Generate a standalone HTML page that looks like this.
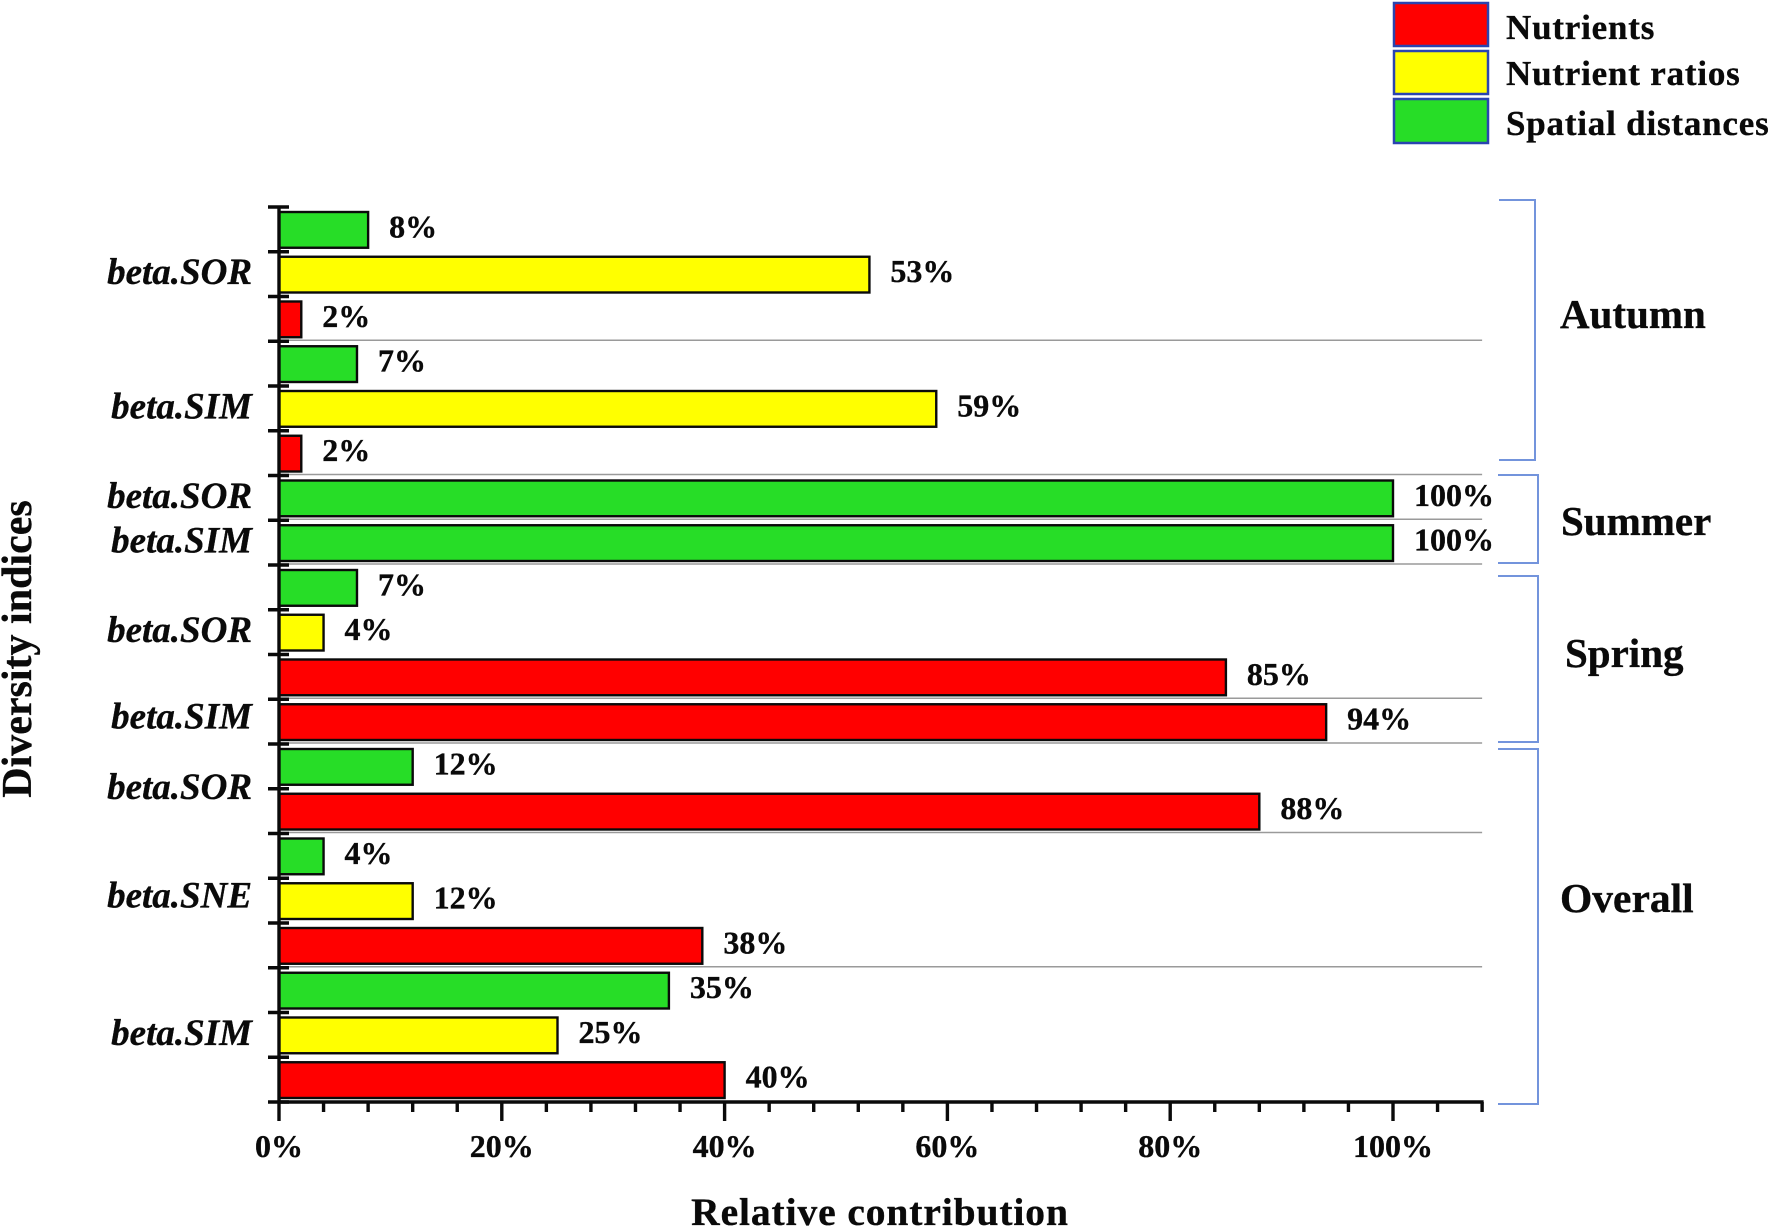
<!DOCTYPE html>
<html>
<head>
<meta charset="utf-8">
<title>Relative contribution by diversity index</title>
<style>
html,body{margin:0;padding:0;background:#fff;}
svg{display:block;}
text{font-family:"Liberation Serif",serif;font-weight:bold;fill:#0a0a0a;stroke:#0a0a0a;stroke-width:0.35px;}
</style>
</head>
<body>
<svg id="chart" xmlns="http://www.w3.org/2000/svg" width="1772" height="1231" viewBox="0 0 1772 1231">
  <rect x="0" y="0" width="1772" height="1231" fill="#ffffff"/>
  <g id="separators"></g>
  <g id="bars"></g>
  <g id="value-labels"></g>
  <g id="axes"></g>
  <g id="category-labels"></g>

  <g>
    <rect x="1394" y="3" width="94" height="43" fill="#ff0000" stroke="#2a44b0" stroke-width="2.5"/>
    <rect x="1394" y="51" width="94" height="43" fill="#ffff00" stroke="#2a44b0" stroke-width="2.5"/>
    <rect x="1394" y="99" width="94" height="44" fill="#27dd27" stroke="#2a44b0" stroke-width="2.5"/>
    <text x="1506" y="39" font-size="35" letter-spacing="0.8">Nutrients</text>
    <text x="1506" y="85" font-size="35" letter-spacing="0.8">Nutrient ratios</text>
    <text x="1506" y="135" font-size="35" letter-spacing="0.8">Spatial distances</text>
  </g>

  <g fill="none" stroke="#7394dc" stroke-width="2">
    <path d="M1499 200H1535V460H1499"/>
    <path d="M1498 475H1538V563H1498"/>
    <path d="M1498 576H1538V742H1498"/>
    <path d="M1498 749H1538V1104H1498"/>
  </g>
  <text x="1560" y="328" font-size="41">Autumn</text>
  <text x="1561" y="535" font-size="41">Summer</text>
  <text x="1565" y="667" font-size="41">Spring</text>
  <text x="1560" y="912" font-size="41.5">Overall</text>

  <text x="880" y="1225" font-size="39.5" text-anchor="middle" letter-spacing="0.9">Relative contribution</text>
  <text transform="translate(31 649) rotate(-90)" font-size="42" text-anchor="middle">Diversity indices</text>
</svg>
<script>
const barValues = [8, 53, 2, 7, 59, 2, 100, 100, 7, 4, 85, 94, 12, 88, 4, 12, 38, 35, 25, 40];
const barGroups = ["spatial", "ratios", "nutrients", "spatial", "ratios", "nutrients", "spatial", "spatial", "spatial", "ratios", "nutrients", "nutrients", "spatial", "nutrients", "spatial", "ratios", "nutrients", "spatial", "ratios", "nutrients"];
const categoryNames = ["beta.SOR", "beta.SIM", "beta.SOR", "beta.SIM", "beta.SOR", "beta.SIM", "beta.SOR", "beta.SNE", "beta.SIM"];
const categorySlots = [1, 4, 6, 7, 9, 10.93, 12.5, 14.93, 18];
const separatorSlots = [3, 6, 7, 8, 11, 12, 14, 17];
const xTickValues = [0, 20, 40, 60, 80, 100];
const xMinorStep = 4;
const xAxisMax = 108;
const slotCount = 20;

const groupColors = {nutrients: "#ff0000", ratios: "#ffff00", spatial: "#27dd27"};
const NS = "http://www.w3.org/2000/svg";
const plotLeft = 279, plotTop = 207, plotBottom = 1102, pxPerPercent = 11.14;
const slotHeight = (plotBottom - plotTop) / slotCount;
function xScale(v) { return plotLeft + v * pxPerPercent; }
function yScale(slot) { return plotTop + slot * slotHeight; }
function shape(parent, tag, props) {
  const el = document.createElementNS(NS, tag);
  for (const k in props) el.setAttribute(k, props[k]);
  parent.appendChild(el);
  return el;
}

const sepGroup = document.getElementById("separators");
separatorSlots.forEach(function (s) {
  const el = shape(sepGroup, "line", {x1: plotLeft, x2: xScale(xAxisMax), y1: yScale(s) - 1, y2: yScale(s) - 1, stroke: "#9a9a9a", "stroke-width": 1.6});
  
  
});

const barGroup = document.getElementById("bars");
const labelGroup = document.getElementById("value-labels");
barValues.forEach(function (v, i) {
  const bar = shape(barGroup, "rect", {
    x: xScale(0), y: yScale(i) + 5, width: xScale(v) - xScale(0), height: slotHeight - 9,
    fill: groupColors[barGroups[i]], stroke: "#0a0a0a", "stroke-width": 2.4
  });
  
  
  const label = shape(labelGroup, "text", {x: xScale(v) + 21, y: yScale(i + 0.5) + 8, "font-size": 32});
  label.textContent = v + "%";
  
  
});

const axes = document.getElementById("axes");
const yAxis = shape(axes, "line", {x1: plotLeft, x2: plotLeft, y1: plotTop, y2: plotBottom + 1.5, stroke: "#0a0a0a", "stroke-width": 3.4});


const xAxis = shape(axes, "line", {x1: plotLeft, x2: xScale(xAxisMax) + 1.5, y1: plotBottom, y2: plotBottom, stroke: "#0a0a0a", "stroke-width": 3.4});


for (let s = 0; s <= slotCount; s++) {
  const t = shape(axes, "line", {x1: 268, x2: 289, y1: yScale(s), y2: yScale(s), stroke: "#0a0a0a", "stroke-width": 3.4});
  
  
}
for (let v = 0; v <= xAxisMax; v += xMinorStep) {
  const major = xTickValues.indexOf(v) >= 0;
  const t = shape(axes, "line", {x1: xScale(v), x2: xScale(v), y1: plotBottom, y2: major ? 1121 : 1112, stroke: "#0a0a0a", "stroke-width": 3.4});
  
  
}
xTickValues.forEach(function (v) {
  const t = shape(axes, "text", {x: xScale(v), y: 1157, "font-size": 32, "text-anchor": "middle"});
  t.textContent = v + "%";
  
  
});

const catGroup = document.getElementById("category-labels");
categoryNames.forEach(function (name, i) {
  const t = shape(catGroup, "text", {x: 252, y: yScale(categorySlots[i] + 0.5) + 10, "font-size": 37, "font-style": "italic", "text-anchor": "end"});
  t.textContent = name;
  
  
});
</script>
</body>
</html>
